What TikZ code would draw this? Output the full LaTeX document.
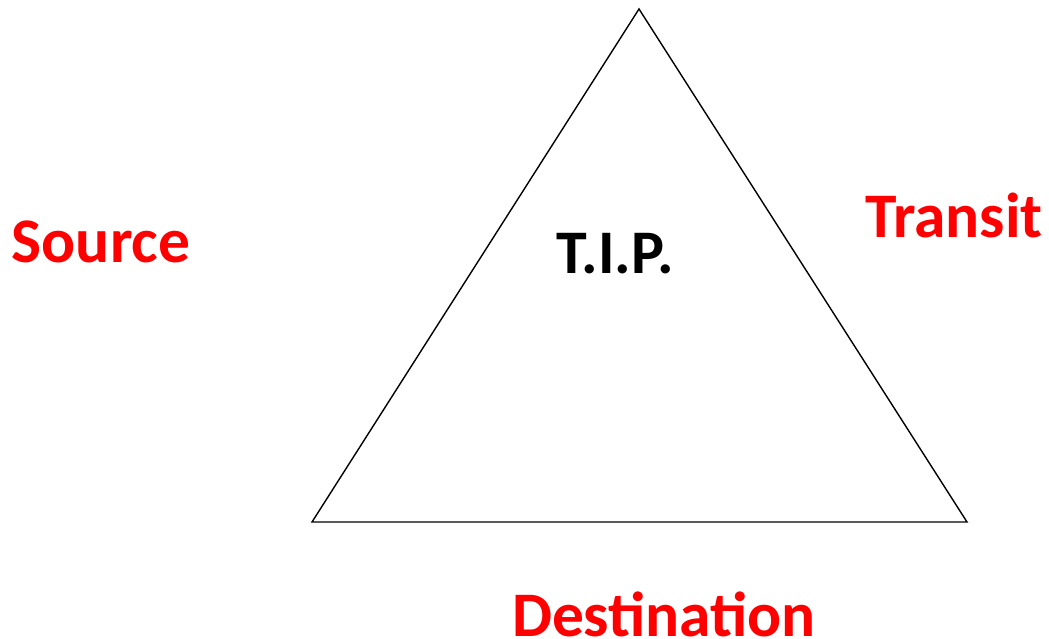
\documentclass[tikz,border=0pt]{standalone}
\usepackage{fontspec}
\setmainfont{Carlito}
\definecolor{lblred}{RGB}{255,0,0}
\begin{document}
\begin{tikzpicture}[x=1pt,y=-1pt,
  lbl/.style={font=\fontsize{63.5}{68}\selectfont\bfseries, text=lblred, anchor=base, inner sep=0pt},
  tip/.style={font=\fontsize{62}{68}\selectfont\bfseries, text=black, anchor=base, inner sep=0pt},
  edge/.style={draw=black, line width=1.4pt, line join=miter}]
\useasboundingbox (0,0) rectangle (1049,639);
\coordinate (top) at (639,9);
\coordinate (bl) at (312,522);
\coordinate (br) at (967,522);
\draw[edge] (top) -- (bl) -- (br) -- cycle;
\node[tip] (tipnode) at (615,273) {T.I.P.};
\node[lbl] (source) at (101,262) {Source};
\node[lbl] (transit) at (954,237) {Transit};
\node[lbl] (dest) at (664,636) {Destination};
\end{tikzpicture}
\end{document}
